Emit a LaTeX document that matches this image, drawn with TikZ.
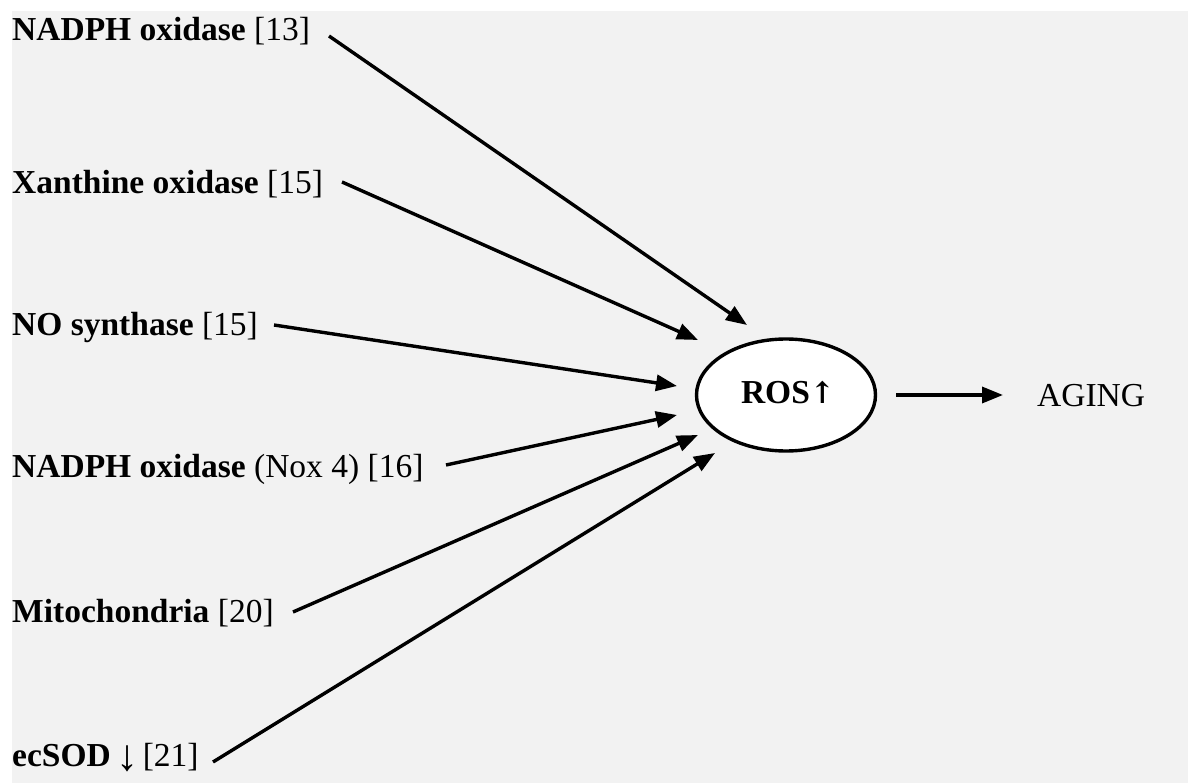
\documentclass[tikz,border=0pt]{standalone}
\usepackage{fontspec}
\setmainfont{Liberation Serif}
\newfontfamily\arrowfont{DejaVu Serif}
\usetikzlibrary{arrows.meta,shapes.geometric}
\definecolor{bggray}{HTML}{F2F2F2}
\begin{document}
\begin{tikzpicture}[x=1pt,y=-1pt,
  lbl/.style={anchor=base west,inner sep=0pt,font=\fontsize{33.5}{40}\selectfont},
  conn/.style={line width=3.4pt,-{Triangle[length=21pt,width=16pt]}}]
\useasboundingbox (0,0) rectangle (1188,783);
\fill[bggray] (12,11) rectangle (1188,783);
\node[lbl] (l1) at (12,41) {\textbf{NADPH oxidase} [13]};
\node[lbl] (l2) at (12,194) {\textbf{Xanthine oxidase} [15]};
\node[lbl] (l3) at (12,336) {\textbf{NO synthase} [15]};
\node[lbl] (l4) at (12,477) {\textbf{NADPH oxidase} (Nox 4) [16]};
\node[lbl] (l5) at (12,622) {\textbf{Mitochondria} [20]};
\node[lbl] (l6) at (12,766) {\textbf{ecSOD}\hspace{6pt}\raisebox{-4pt}{\fontsize{44}{44}\selectfont↓}\hspace{4pt}[21]};
\node[ellipse,draw,line width=3.4pt,fill=white,minimum width=179pt,minimum height=112pt,inner sep=0pt] (ros) at (786,395) {};
\node[anchor=base,inner sep=0pt,font=\fontsize{33.5}{40}\selectfont\bfseries] (rost) at (788,403) {ROS{\arrowfont\bfseries\fontsize{30}{36}\selectfont↑}};
\node[lbl] (aging) at (1037,406) {AGING};
\coordinate (s1) at (329,36);  \coordinate (t1) at (747,325);
\coordinate (s2) at (342,182); \coordinate (t2) at (698,340);
\coordinate (s3) at (274,325); \coordinate (t3) at (677,386);
\coordinate (s4) at (446,465); \coordinate (t4) at (677,415);
\coordinate (s5) at (293,612); \coordinate (t5) at (698,435);
\coordinate (s6) at (213,762); \coordinate (t6) at (715,453);
\coordinate (s7) at (896,395); \coordinate (t7) at (1003,395);
\draw[conn] (s1) -- (t1);
\draw[conn] (s2) -- (t2);
\draw[conn] (s3) -- (t3);
\draw[conn] (s4) -- (t4);
\draw[conn] (s5) -- (t5);
\draw[conn] (s6) -- (t6);
\draw[conn] (s7) -- (t7);
\end{tikzpicture}
\end{document}
